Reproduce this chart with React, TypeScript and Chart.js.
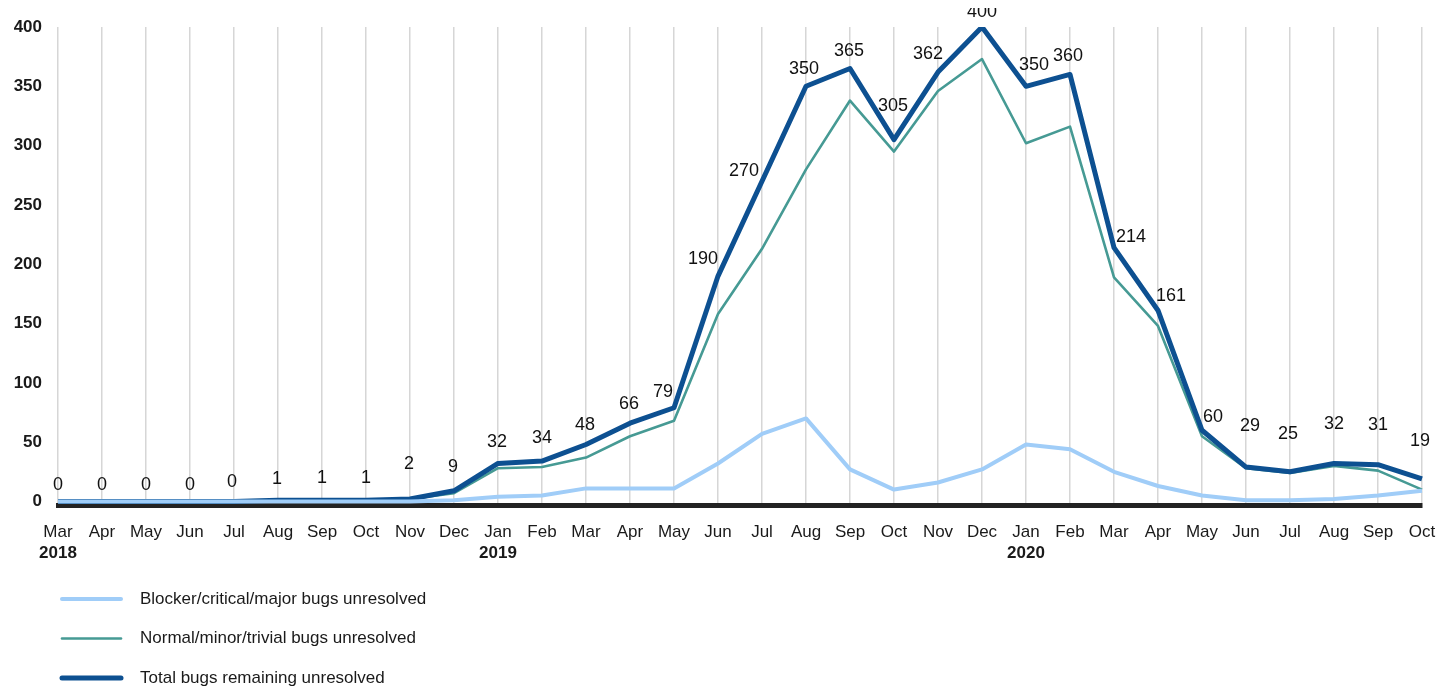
import React, { useEffect, useRef } from "react";
import { Chart, registerables } from "chart.js";

Chart.register(...registerables);

const months = [
  "Mar", "Apr", "May", "Jun", "Jul", "Aug", "Sep", "Oct", "Nov", "Dec",
  "Jan", "Feb", "Mar", "Apr", "May", "Jun", "Jul", "Aug", "Sep", "Oct", "Nov", "Dec",
  "Jan", "Feb", "Mar", "Apr", "May", "Jun", "Jul", "Aug", "Sep", "Oct",
];
const years = [
  "2018", "", "", "", "", "", "", "", "", "",
  "2019", "", "", "", "", "", "", "", "", "", "", "",
  "2020", "", "", "", "", "", "", "", "", "",
];
const yTicks = [0, 50, 100, 150, 200, 250, 300, 350, 400];
const blocker = [0, 0, 0, 0, 0, 0, 0, 0, 0, 1, 4, 5, 11, 11, 11, 32, 57, 70, 27, 10, 16, 27, 48, 44, 25, 13, 5, 1, 1, 2, 5, 9];
const normal = [0, 0, 0, 0, 0, 1, 1, 1, 2, 7, 28, 29, 37, 55, 68, 158, 213, 280, 338, 295, 346, 373, 302, 316, 189, 148, 55, 28, 24, 30, 26, 10];
const total = [0, 0, 0, 0, 0, 1, 1, 1, 2, 9, 32, 34, 48, 66, 79, 190, 270, 350, 365, 305, 362, 400, 350, 360, 214, 161, 60, 29, 25, 32, 31, 19];
const seriesNames = [
  "Blocker/critical/major bugs unresolved",
  "Normal/minor/trivial bugs unresolved",
  "Total bugs remaining unresolved",
];

// label placement (style): offset of each value label from its point
const labelOffsets: [number, number][] = [
  [0, -16], [0, -16], [0, -16], [0, -16], [-2, -19], [-1, -21], [0, -22], [0, -22], [-1, -35], [-1, -24],
  [-1, -21], [0, -23], [-1, -19], [-1, -19], [-11, -16], [-15, -17], [-18, -10], [-2, -17], [-1, -17], [-1, -34],
  [-10, -18], [0, -15], [8, -21], [-2, -18], [17, -11], [13, -14], [11, -13], [4, -41], [-2, -38], [0, -39],
  [0, -40], [-2, -38],
];

const FONT = '"Liberation Sans", Arial, Helvetica, sans-serif';
const colors = ["#a0cdf8", "#469a94", "#0d5091"];
const widths = [4, 2.6, 5];

const valueLabels = {
  id: "valueLabels",
  afterDatasetsDraw(chart: any) {
    const meta = chart.getDatasetMeta(2);
    const ctx = chart.ctx;
    ctx.save();
    ctx.font = `18px ${FONT}`;
    ctx.fillStyle = "#111";
    ctx.textAlign = "center";
    ctx.textBaseline = "middle";
    meta.data.forEach((pt: any, i: number) => {
      const [dx, dy] = labelOffsets[i] || [0, -18];
      ctx.fillText(String(total[i]), pt.x + dx, pt.y + dy);
    });
    ctx.restore();
  },
};

const stackedLegend = {
  id: "stackedLegend",
  afterDraw(chart: any) {
    const ctx = chart.ctx;
    const base = chart.scales.x2.bottom;
    ctx.save();
    ctx.font = `17px ${FONT}`;
    ctx.textAlign = "left";
    ctx.textBaseline = "middle";
    chart.data.datasets.forEach((ds: any, i: number) => {
      const y = base + 34 + i * 39.5;
      ctx.strokeStyle = ds.borderColor;
      ctx.lineWidth = ds.borderWidth;
      ctx.lineCap = "round";
      ctx.beginPath();
      ctx.moveTo(62, y);
      ctx.lineTo(121, y);
      ctx.stroke();
      ctx.fillStyle = "#1a1a1a";
      ctx.fillText(ds.label, 140, y);
    });
    ctx.restore();
  },
};

const noPad = (s: any) => {
  s.paddingLeft = 0;
  s.paddingRight = 0;
  s.paddingTop = 0;
  s.paddingBottom = 0;
};

export default function App() {
  const ref = useRef<HTMLCanvasElement | null>(null);
  useEffect(() => {
    if (!ref.current) return;
    const mk = (i: number, data: number[], order: number) => ({
      label: seriesNames[i],
      data,
      borderColor: colors[i],
      backgroundColor: colors[i],
      borderWidth: widths[i],
      pointRadius: 0,
      tension: 0,
      fill: false,
      order,
      borderJoinStyle: "round" as const,
    });
    const chart = new Chart(ref.current, {
      type: "line",
      data: {
        labels: months,
        datasets: [mk(0, blocker, 0), mk(1, normal, 2), mk(2, total, 1)],
      },
      options: {
        animation: false,
        responsive: false,
        layout: { padding: { top: 27, right: 33, bottom: 127, left: 0 } },
        plugins: { legend: { display: false }, tooltip: { enabled: false } },
        scales: {
          x: {
            type: "category",
            offset: false,
            grid: { display: true, color: "#d6d6d6", lineWidth: 1.5, drawTicks: false },
            border: { display: true, color: "#222222", width: 5 },
            ticks: {
              color: "#1a1a1a",
              font: { family: FONT, size: 17 },
              padding: 17,
              maxRotation: 0,
              autoSkip: false,
            },
            afterFit: (s: any) => { s.height = 38; noPad(s); },
          },
          x2: {
            type: "category",
            labels: years,
            position: "bottom",
            offset: false,
            grid: { display: false, drawTicks: false },
            border: { display: false },
            ticks: {
              color: "#1a1a1a",
              font: { family: FONT, size: 17, weight: "bold" },
              padding: 0,
              maxRotation: 0,
              autoSkip: false,
            },
            afterFit: (s: any) => { s.height = 22; noPad(s); },
          },
          y: {
            min: -3,
            max: 400,
            grid: { display: false, drawTicks: false },
            border: { display: false },
            ticks: {
              color: "#1a1a1a",
              font: { family: FONT, size: 17, weight: "bold" },
              padding: 16,
            },
            afterBuildTicks: (s: any) => { s.ticks = yTicks.map((v) => ({ value: v })); },
            afterFit: (s: any) => { s.width = 58; noPad(s); },
          },
        },
      },
      plugins: [valueLabels, stackedLegend],
    });
    return () => chart.destroy();
  }, []);
  return (
    <div style={{ width: 1455, height: 692, marginTop: -8, marginLeft: -8 }}>
      <canvas ref={ref} width={1455} height={692} style={{ display: "block" }} />
    </div>
  );
}
